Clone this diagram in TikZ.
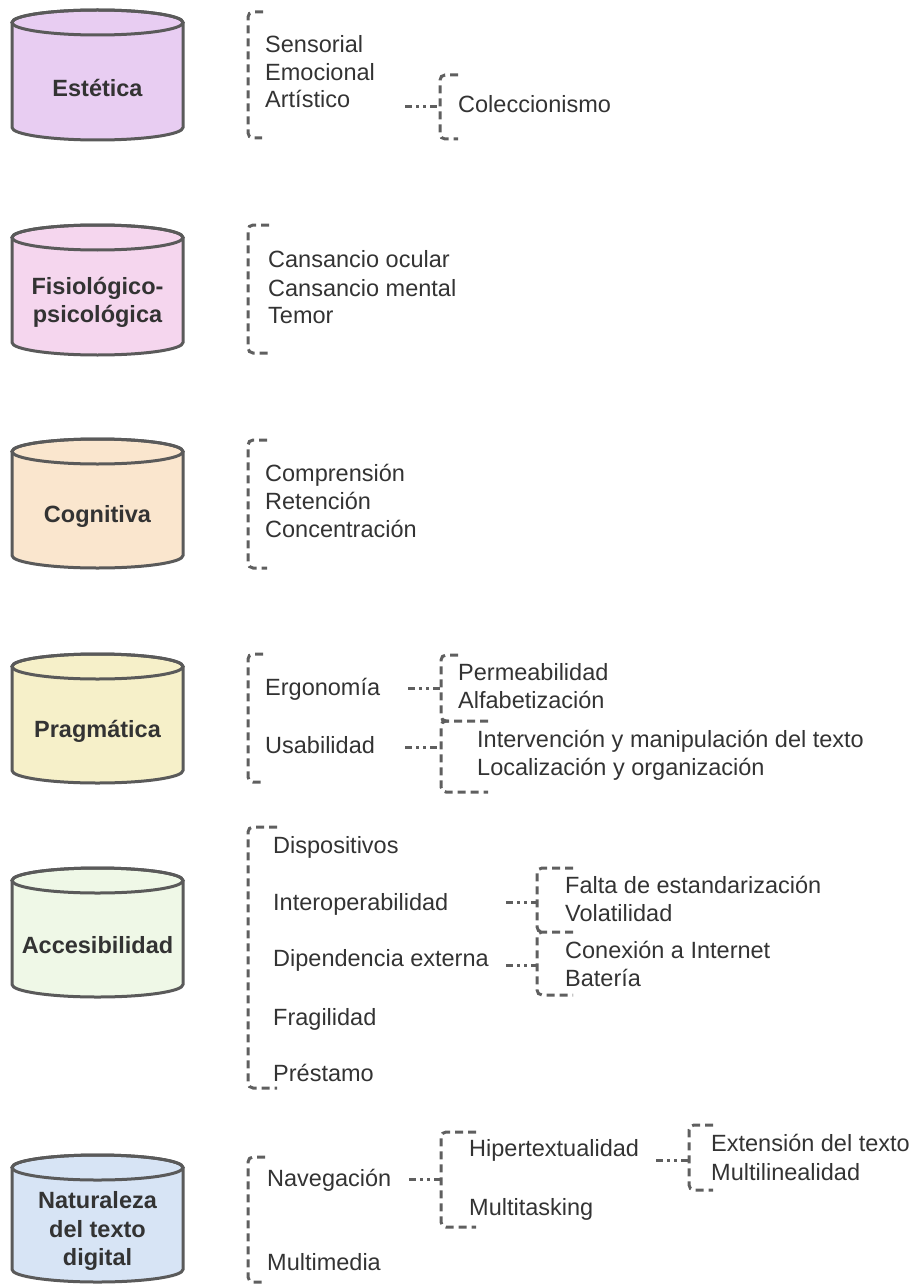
\documentclass[tikz,border=0pt]{standalone}
\usepackage{fontspec}
\setmainfont{Liberation Sans}

\definecolor{txt}{HTML}{333333}
\definecolor{cylline}{HTML}{5A5A5A}
\definecolor{brkline}{HTML}{5F5F5F}
\definecolor{cEst}{HTML}{E8CDF2}
\definecolor{cFis}{HTML}{F5D6EE}
\definecolor{cCog}{HTML}{FAE6CE}
\definecolor{cPra}{HTML}{F6F0C9}
\definecolor{cAcc}{HTML}{EFF8E7}
\definecolor{cNat}{HTML}{D7E4F5}

% drum: name, top y, bottom y, fill colour, label  (y grows downwards)
\newcommand\DrawDrum[5]{%
  \path[cyl, fill=#4] (12,#2+12.5) -- (12,#3-12.5)
    arc[start angle=180, end angle=0, x radius=85.5, y radius=12.5]
    -- (183,#2+12.5)
    arc[start angle=0, end angle=-180, x radius=85.5, y radius=12.5] -- cycle;
  \draw[cyl] (97.5,#2+12.5) ellipse[x radius=85.5, y radius=12.5];
  \node[cat] (#1) at (97.5,{(#2+25+#3)/2}) {#5};
}
% dashed bracket: x, top y, bottom y, end of top stub, end of bottom stub
\newcommand\DrawBracket[5]{%
  \draw[brk] (#4,#2) -- (#1,#2) -- (#1,#3) -- (#5,#3);
}

\begin{document}
\begin{tikzpicture}[x=1pt, y=-1pt,
  cyl/.style={draw=cylline, line width=3pt},
  brk/.style={draw=brkline, line width=3pt, dash pattern=on 8pt off 5pt,
              rounded corners=5pt},
  conn/.style={draw=brkline, line width=3pt,
               dash pattern=on 7pt off 4pt on 3pt off 4pt on 3pt off 4pt},
  item/.style={anchor=base west, inner sep=0pt,
               font=\fontsize{23.5}{28.5}\selectfont, text=txt},
  cat/.style={align=center, inner sep=0pt,
              font=\fontsize{23.5}{28.5}\selectfont\bfseries, text=txt}
]
\useasboundingbox (0,0) rectangle (915,1284);

% ---------- Estética ----------
\DrawDrum{estetica}{10}{140}{cEst}{Estética}
\DrawBracket{248}{12}{138}{263}{262}
\node[item] (sens) at (265,53) {Sensorial};
\node[item] (emoc) at (265,81) {Emocional};
\node[item] (arti) at (265,108) {Artístico};
\DrawBracket{440}{75}{139}{458}{458}
\node[item] (cole) at (458,113) {Coleccionismo};
\coordinate (artiA) at (405,107);
\coordinate (artiB) at (440,107);
\draw[conn] (artiA) -- (artiB);

% ---------- Fisiológico-psicológica ----------
\DrawDrum{fisio}{225}{355}{cFis}{Fisiológico-\\psicológica}
\DrawBracket{248}{225}{353}{269}{269}
\node[item] (ocul) at (268,267) {Cansancio ocular};
\node[item] (ment) at (268,296) {Cansancio mental};
\node[item] (temo) at (268,323) {Temor};

% ---------- Cognitiva ----------
\DrawDrum{cogn}{439}{568}{cCog}{Cognitiva}
\DrawBracket{248}{440}{568}{267}{267}
\node[item] (comp) at (265,481) {Comprensión};
\node[item] (rete) at (265,509) {Retención};
\node[item] (conc) at (265,537) {Concentración};

% ---------- Pragmática ----------
\DrawDrum{prag}{654}{783}{cPra}{Pragmática}
\DrawBracket{248}{654}{782}{263}{262}
\node[item] (ergo) at (265,695) {Ergonomía};
\node[item] (usab) at (265,753) {Usabilidad};
\DrawBracket{441}{655}{721}{458}{450}
\DrawBracket{441}{721}{792}{488}{488}
\node[item] (perm) at (458,680) {Permeabilidad};
\node[item] (alfa) at (458,708) {Alfabetización};
\node[item] (inte) at (477,747) {Intervención y manipulación del texto};
\node[item] (loca) at (477,775) {Localización y organización};
\coordinate (ergoA) at (408,688);
\coordinate (ergoB) at (441,688);
\coordinate (usabA) at (405,747);
\coordinate (usabB) at (441,747);
\draw[conn] (ergoA) -- (ergoB);
\draw[conn] (usabA) -- (usabB);

% ---------- Accesibilidad ----------
\DrawDrum{acce}{868}{997}{cAcc}{Accesibilidad}
\DrawBracket{248}{827}{1088}{277}{277}
\node[item] (disp) at (273,853) {Dispositivos};
\node[item] (inop) at (273,910) {Interoperabilidad};
\node[item] (dipe) at (273,966) {Dipendencia externa};
\node[item] (frag) at (273,1025) {Fragilidad};
\node[item] (pres) at (273,1081) {Préstamo};
\DrawBracket{537}{868}{932}{573}{545}
\DrawBracket{537}{932}{995}{573}{573}
\node[item] (falt) at (565,893) {Falta de estandarización};
\node[item] (vola) at (565,921) {Volatilidad};
\node[item] (cone) at (565,958) {Conexión a Internet};
\node[item] (bate) at (565,986) {Batería};
\coordinate (inopA) at (506,902);
\coordinate (inopB) at (537,902);
\coordinate (dipeA) at (506,965);
\coordinate (dipeB) at (537,965);
\draw[conn] (inopA) -- (inopB);
\draw[conn] (dipeA) -- (dipeB);

% ---------- Naturaleza del texto digital ----------
\DrawDrum{natu}{1155}{1282}{cNat}{Naturaleza\\del texto\\digital}
\DrawBracket{248}{1157}{1282}{265}{265}
\node[item] (nave) at (267,1186) {Navegación};
\node[item] (mult) at (267,1270) {Multimedia};
\DrawBracket{441}{1132}{1227}{476}{476}
\node[item] (hipe) at (469,1156) {Hipertextualidad};
\node[item] (mtas) at (469,1215) {Multitasking};
\DrawBracket{689}{1125}{1190}{713}{713}
\node[item] (exte) at (711,1151) {Extensión del texto};
\node[item] (mlin) at (711,1180) {Multilinealidad};
\coordinate (naveA) at (409,1179);
\coordinate (naveB) at (441,1179);
\coordinate (hipeA) at (656,1160);
\coordinate (hipeB) at (689,1160);
\draw[conn] (naveA) -- (naveB);
\draw[conn] (hipeA) -- (hipeB);
\end{tikzpicture}
\end{document}
